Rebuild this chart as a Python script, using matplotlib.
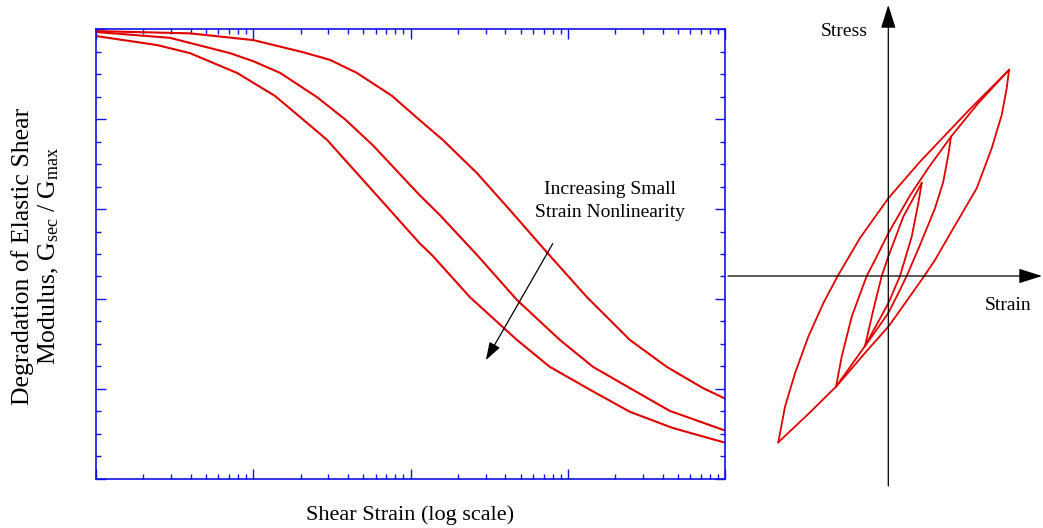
"""
Modulus degradation curves (left) and nested hysteresis loops (right).
Values were read off the reference picture.
"""

import matplotlib
matplotlib.use("Agg")
import matplotlib.pyplot as plt
from matplotlib.ticker import LogLocator, MultipleLocator, NullFormatter

plt.rcParams["font.family"] = ["Liberation Serif", "DejaVu Serif"]
plt.rcParams["mathtext.fontset"] = "custom"
plt.rcParams["mathtext.rm"] = "Liberation Serif"
plt.rcParams["mathtext.it"] = "Liberation Serif:italic"

RED = "#e00000"
BLUE = "#1010ee"

# Left panel: G/Gmax against shear strain, three curves
CURVE_A_STRAIN = [1.0e-4, 3.95e-4, 1.0e-3, 2.07e-3, 3.07e-3, 4.55e-3, 7.60e-3, 1.14e-2,
                  1.60e-2, 2.64e-2, 4.27e-2, 7.33e-2, 0.132, 0.247, 0.424, 0.718, 1.0]
CURVE_A_GG = [0.996, 0.991, 0.976, 0.949, 0.932, 0.903, 0.852, 0.798,
              0.754, 0.680, 0.598, 0.504, 0.404, 0.309, 0.249, 0.202, 0.178]

CURVE_B_STRAIN = [1.0e-4, 2.95e-4, 7.10e-4, 1.0e-3, 1.48e-3, 2.54e-3, 3.82e-3, 5.75e-3, 8.53e-3,
                  1.14e-2, 1.53e-2, 2.64e-2, 4.73e-2, 8.87e-2, 0.144, 0.258, 0.443, 1.0]
CURVE_B_GG = [0.994, 0.981, 0.947, 0.929, 0.903, 0.849, 0.800, 0.742, 0.678,
              0.631, 0.587, 0.498, 0.398, 0.309, 0.249, 0.198, 0.151, 0.107]

CURVE_C_STRAIN = [1.0e-4, 2.44e-4, 3.95e-4, 7.87e-4, 1.37e-3, 1.98e-3, 2.94e-3, 4.55e-3, 7.38e-3,
                  1.14e-2, 1.38e-2, 2.38e-2, 4.73e-2, 7.66e-2, 0.138, 0.247, 0.462, 1.0]
CURVE_C_GG = [0.985, 0.965, 0.947, 0.903, 0.852, 0.805, 0.754, 0.680, 0.598,
              0.524, 0.496, 0.404, 0.309, 0.249, 0.198, 0.149, 0.113, 0.080]

# Right panel: stress-strain loops (arbitrary units)
OUTER_UP_STRAIN = [-1.10, -1.033, -0.933, -0.80, -0.65, -0.506, -0.283, 0.0, 0.317, 0.817, 1.207]
OUTER_UP_STRESS = [-1.663, -1.307, -0.973, -0.607, -0.273, 0.0, 0.38, 0.777, 1.143, 1.67, 2.06]

OUTER_DOWN_STRAIN = [1.207, 1.184, 1.134, 1.034, 0.884, 0.65, 0.467, 0.36, 0.167, 0.0,
                     -0.233, -0.523, -0.80, -1.10]
OUTER_DOWN_STRESS = [2.06, 1.877, 1.61, 1.277, 0.877, 0.477, 0.16, 0.0, -0.273, -0.507,
                     -0.77, -1.107, -1.38, -1.663]

MID_UP_STRAIN = [-0.523, -0.466, -0.366, -0.216, -0.133, 0.0, 0.22, 0.40, 0.627, 0.90, 1.207]
MID_UP_STRESS = [-1.107, -0.807, -0.407, 0.0, 0.16, 0.427, 0.81, 1.08, 1.393, 1.73, 2.06]

MID_DOWN_STRAIN = [0.627, 0.60, 0.55, 0.467, 0.317, 0.184, 0.10, 0.0, -0.133, -0.233, -0.523]
MID_DOWN_STRESS = [1.393, 1.21, 0.943, 0.677, 0.31, 0.0, -0.173, -0.37, -0.56, -0.70, -1.107]

INNER_UP_STRAIN = [-0.233, -0.15, -0.066, 0.0, 0.15, 0.334]
INNER_UP_STRESS = [-0.70, -0.34, 0.0, 0.193, 0.593, 0.93]

INNER_DOWN_STRAIN = [0.334, 0.30, 0.234, 0.117, 0.0, -0.233]
INNER_DOWN_STRESS = [0.93, 0.727, 0.393, 0.0, -0.273, -0.70]

W, H = 1043, 528
fig = plt.figure(figsize=(W / 100, H / 100), dpi=100)

# ---- left panel
ax = fig.add_axes([96 / W, 49.3 / H, 629.3 / W, 449.4 / H])
for xs, ys in [(CURVE_A_STRAIN, CURVE_A_GG), (CURVE_B_STRAIN, CURVE_B_GG),
               (CURVE_C_STRAIN, CURVE_C_GG)]:
    ax.plot(xs, ys, color=RED, lw=1.5, solid_joinstyle="round")

ax.set_xscale("log")
ax.set_xlim(1e-4, 1.0)
ax.set_ylim(0, 1)
ax.xaxis.set_major_locator(LogLocator(base=10, numticks=10))
ax.xaxis.set_minor_locator(LogLocator(base=10, subs=range(2, 10), numticks=10))
ax.xaxis.set_minor_formatter(NullFormatter())
ax.yaxis.set_major_locator(MultipleLocator(0.2))
ax.yaxis.set_minor_locator(MultipleLocator(0.05))
ax.tick_params(which="both", direction="in", top=True, right=True, color=BLUE,
               labelleft=False, labelbottom=False, width=1.0)
ax.tick_params(which="major", length=7)
ax.tick_params(which="minor", length=3.6)
for sp in ax.spines.values():
    sp.set_color(BLUE)
    sp.set_linewidth(1.2)

ax.text(0.185, 0.618, "Increasing Small\nStrain Nonlinearity", ha="center", va="center",
        fontsize=14, linespacing=1.4)
ax.annotate("", xy=(0.0301, 0.264), xytext=(0.080, 0.523),
            arrowprops=dict(arrowstyle="-|>,head_length=0.9,head_width=0.3",
                            color="black", lw=0.9, mutation_scale=12,
                            shrinkA=0, shrinkB=0))

fig.text(36 / W, 1 - 256 / H,
         "Degradation of Elastic Shear\nModulus, G$_{\\mathrm{sec}}$ / G$_{\\mathrm{max}}$",
         rotation=90, ha="center", va="center", fontsize=18.5, linespacing=1.1,
         multialignment="center")
fig.text(410 / W, 1 - 515 / H, "Shear Strain (log scale)", ha="center", va="center",
         fontsize=16)

# ---- right panel, 1 unit = 100 px
ax2 = fig.add_axes([725 / W, 0, 318 / W, 1])
ax2.set_xlim(-1.633, 1.547)
ax2.set_ylim(-2.52, 2.76)
ax2.axis("off")

arrow = dict(arrowstyle="-|>,head_length=1.2,head_width=0.38", color="black",
             lw=0.9, mutation_scale=12, shrinkA=0, shrinkB=0)
ax2.annotate("", xy=(1.537, 0), xytext=(-1.603, 0), arrowprops=arrow)
ax2.annotate("", xy=(0, 2.71), xytext=(0, -2.10), arrowprops=arrow)

for xs, ys in [(OUTER_UP_STRAIN, OUTER_UP_STRESS), (OUTER_DOWN_STRAIN, OUTER_DOWN_STRESS),
               (MID_UP_STRAIN, MID_UP_STRESS), (MID_DOWN_STRAIN, MID_DOWN_STRESS),
               (INNER_UP_STRAIN, INNER_UP_STRESS), (INNER_DOWN_STRAIN, INNER_DOWN_STRESS)]:
    ax2.plot(xs, ys, color=RED, lw=1.3, solid_joinstyle="round")

ax2.text(-0.443, 2.44, "Stress", ha="center", va="center", fontsize=14)
ax2.text(1.197, -0.30, "Strain", ha="center", va="center", fontsize=14)

fig.savefig("out.png", dpi=100)
